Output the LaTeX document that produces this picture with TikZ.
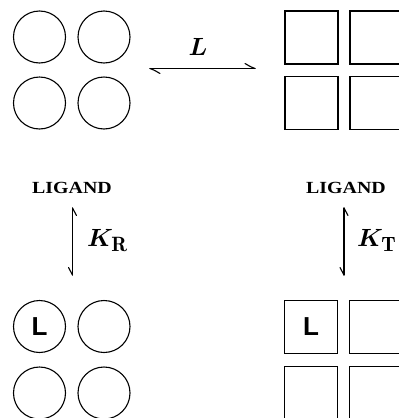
\documentclass[tikz,border=0pt]{standalone}
\usepackage{fontspec}
\newfontfamily\lsans{Liberation Sans}
\newfontfamily\lserif{Liberation Serif}
\begin{document}
\begin{tikzpicture}[x=1pt,y=-1pt,
  subunit/.style={draw,line width=1.1pt,inner sep=0pt},
  rsub/.style={subunit,circle,minimum size=52pt},
  tsub/.style={subunit,rectangle,minimum size=53pt},
  lig/.style={font=\lsans\bfseries\fontsize{26}{27}\selectfont,inner sep=0pt},
  ligtxt/.style={font=\lserif\bfseries\fontsize{17}{19}\selectfont,inner sep=0pt,anchor=base},
  eqlab/.style={font=\fontsize{24.88}{30}\selectfont\boldmath,inner sep=0pt,anchor=base},
  harp/.style={line width=1.1pt,line cap=round}]
\useasboundingbox (0,0) rectangle (399,418);
% R state, free
\node[rsub] (r1) at (39.5,37) {};
\node[rsub] (r2) at (104,37) {};
\node[rsub] (r3) at (39.5,103) {};
\node[rsub] (r4) at (104,103) {};
% T state, free
\node[tsub] (t1) at (311.5,37.5) {};
\node[tsub] (t2) at (376.5,37.5) {};
\node[tsub] (t3) at (311.5,103) {};
\node[tsub] (t4) at (376.5,103) {};
% L equilibrium
\coordinate (hl) at (150,68.5);
\coordinate (hr) at (255,68.5);
\draw[harp] (hl) -- (hr);
\draw[harp] (hl) .. controls (154,70) .. (160,73.5);
\draw[harp] (hr) .. controls (251,67) .. (245,63.5);
\node[eqlab] (Llab) at (198,55) {$L$};
% ligand labels
\node[ligtxt] (lig1) at (72,193) {\scalebox{1.17}[1]{LIGAND}};
\node[ligtxt] (lig2) at (346,193) {\scalebox{1.17}[1]{LIGAND}};
% vertical equilibria
\coordinate (vlt) at (72.5,208);
\coordinate (vlb) at (72.5,275);
\draw[harp] (vlt) -- (vlb);
\draw[harp] (vlt) .. controls (74,211) .. (76.5,215.5);
\draw[harp] (vlb) .. controls (71,272) .. (68.5,267.5);
\node[eqlab,anchor=base west] (KR) at (87,246) {$K_{\mathrm{R}}$};
\coordinate (vrt) at (344,208);
\coordinate (vrb) at (344,275);
\draw[harp] (vrt) -- (vrb);
\draw[harp] (vrt) .. controls (345.5,211) .. (348,215.5);
\draw[harp] (vrb) .. controls (342.5,272) .. (340,267.5);
\node[eqlab,anchor=base west] (KT) at (357,246) {$K_{\mathrm{T}}$};
% R state, liganded
\node[rsub] (rl1) at (39.5,326.5) {};
\node[rsub] (rl2) at (104,326.5) {};
\node[rsub] (rl3) at (39.5,393) {};
\node[rsub] (rl4) at (104,393) {};
\node[lig] (Lr) at (rl1) {L};
% T state, liganded
\node[tsub] (tl1) at (311,327) {};
\node[tsub] (tl2) at (376,327) {};
\node[tsub] (tl3) at (311,393) {};
\node[tsub] (tl4) at (376,393) {};
\node[lig] (Lt) at (tl1) {L};
\end{tikzpicture}
\end{document}
